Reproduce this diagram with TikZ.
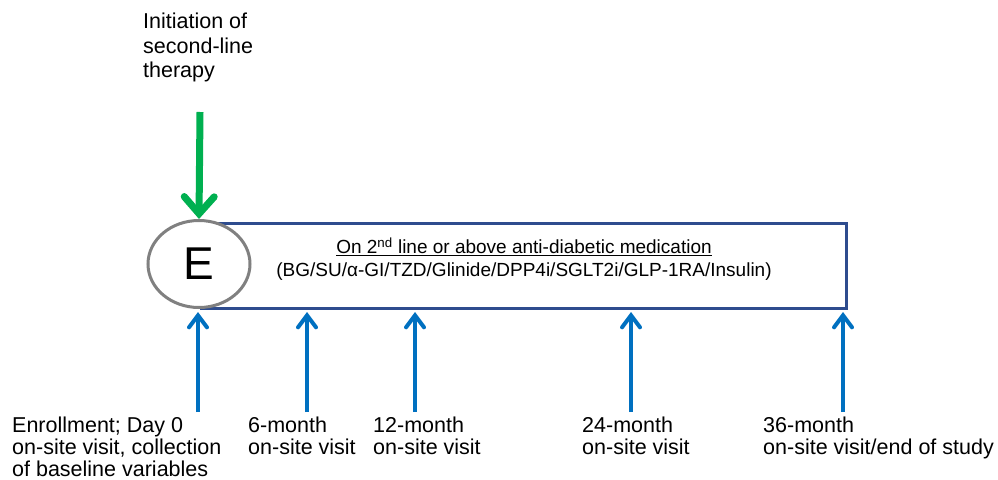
\documentclass[tikz,border=0pt]{standalone}
\usepackage{fontspec}
\setmainfont{Liberation Sans}
\usetikzlibrary{arrows.meta,shapes.geometric}
\definecolor{ggreen}{HTML}{00B050}
\definecolor{bblue}{HTML}{0070C0}
\definecolor{boxblue}{HTML}{2E4C8E}
\definecolor{cgray}{HTML}{808080}
\begin{document}
\begin{tikzpicture}[x=1pt,y=-1pt,
  lbl/.style={anchor=north west,inner sep=0pt,align=left,font=\fontsize{21.5}{22}\selectfont},
  visit/.style={draw=bblue,line width=4pt,-{Straight Barb[length=12pt,width=18pt,line cap=round]}},
  start/.style={draw=ggreen,line width=7pt,-{Straight Barb[length=17pt,width=30pt,line cap=round]}}]
\useasboundingbox (0,0) rectangle (998,479);
% box
\node[draw=boxblue,line width=3.2pt,minimum width=645pt,minimum height=85pt,inner sep=0pt,anchor=north west] (box) at (200,222) {};
\node[inner sep=0pt,align=center,font=\fontsize{19}{23}\selectfont] (med) at (524,259)
 {\underline{On 2\textsuperscript{nd} line or above anti-diabetic medication}\\(BG/SU/α-GI/TZD/Glinide/DPP4i/SGLT2i/GLP-1RA/Insulin)};
\node[draw=cgray,fill=white,line width=3pt,ellipse,minimum width=102pt,minimum height=87pt,inner sep=0pt,font=\fontsize{46}{46}\selectfont] (E) at (199,264) {E};
% top
\node[lbl,font=\fontsize{21.5}{24.5}\selectfont] (init) at (143,13) {Initiation of\\second-line\\therapy};
\coordinate (g0) at (200,112);
\draw[start] (g0) -- (E.north);
% visits
\node[lbl] (v0) at (12,417) {Enrollment; Day 0\\on-site visit, collection\\of baseline variables};
\node[lbl] (v6) at (248,417) {6-month\\on-site visit};
\node[lbl] (v12) at (373,417) {12-month\\on-site visit};
\node[lbl] (v24) at (582,417) {24-month\\on-site visit};
\node[lbl] (v36) at (763,417) {36-month\\on-site visit/end of study};
\coordinate (a0) at (198,412); \coordinate (t0) at (198,312);
\coordinate (a6) at (307,412); \coordinate (t6) at (307,312);
\coordinate (a12) at (415,412); \coordinate (t12) at (415,312);
\coordinate (a24) at (631,412); \coordinate (t24) at (631,312);
\coordinate (a36) at (843,412); \coordinate (t36) at (843,312);
\foreach \i in {0,6,12,24,36} \draw[visit] (a\i) -- (t\i);
\end{tikzpicture}
\end{document}
